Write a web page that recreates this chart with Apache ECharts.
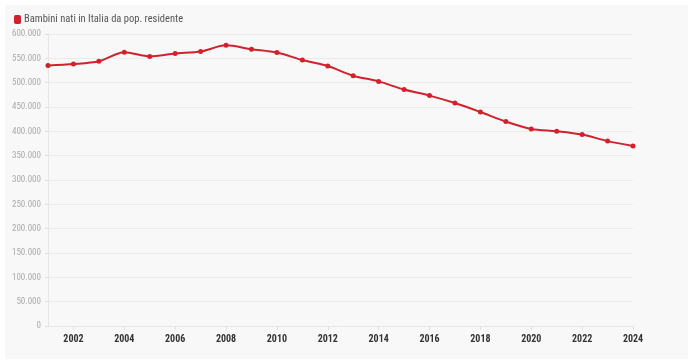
<!DOCTYPE html>
<html>
<head>
<meta charset="utf-8">
<script src="https://cdn.jsdelivr.net/npm/echarts@6/dist/echarts.min.js"></script>
<style>
html,body{margin:0;padding:0;background:#ffffff;}
#wrap{position:absolute;left:5px;top:5px;width:683px;height:354px;background:#f8f8f8;}
#chart{position:absolute;left:-5px;top:-5px;width:695px;height:363px;}
</style>
</head>
<body>
<div id="wrap"><div id="chart"></div></div>
<script>
const years = ['2001','2002','2003','2004','2005','2006','2007','2008','2009','2010','2011','2012','2013','2014','2015','2016','2017','2018','2019','2020','2021','2022','2023','2024'];
const births = [535282,538198,544063,562599,554022,560010,563933,576659,568857,561944,546585,534186,514308,502596,485780,473438,458151,439747,420084,404892,400249,393333,379890,370000];
const seriesName = 'Bambini nati in Italia da pop. residente';

function fmt(v){ return String(v).replace(/\B(?=(\d{3})+(?!\d))/g, '.'); }

const FONT = 'Roboto Condensed';
const chart = echarts.init(document.getElementById('chart'));
chart.setOption({
  backgroundColor: 'transparent',
  animation: false,
  textStyle: { fontFamily: FONT },
  legend: {
    left: 9, top: 9,
    itemWidth: 7, itemHeight: 9, itemGap: 10,
    icon: 'roundRect',
    textStyle: { color: '#555', fontSize: 10.5, fontFamily: FONT, padding: [0, 0, 0, -2] },
    data: [seriesName]
  },
  grid: { left: 48, right: 62, top: 34, bottom: 37 },
  xAxis: {
    type: 'category',
    data: years,
    boundaryGap: false,
    axisLine: { lineStyle: { color: '#e6e6e6' } },
    axisTick: { show: true, interval: function(i){ return i % 2 === 1; }, lineStyle: { color: '#e0e0e0' }, length: 4 },
    axisLabel: { interval: function(i){ return i % 2 === 1; }, color: '#333', fontWeight: 'bold', fontSize: 10, fontFamily: FONT, margin: 8 },
    splitLine: { show: false }
  },
  yAxis: {
    type: 'value',
    min: 0, max: 600000, interval: 50000,
    axisLine: { show: true, lineStyle: { color: '#e6e6e6' } },
    axisTick: { show: true, length: 3, lineStyle: { color: '#e0e0e0' } },
    axisLabel: { color: '#aaaaaa', fontSize: 9, fontFamily: FONT, formatter: fmt, margin: 7 },
    splitLine: { lineStyle: { color: '#ebebeb' } }
  },
  series: [{
    name: seriesName,
    type: 'line',
    data: births,
    smooth: 0.3,
    symbol: 'circle',
    symbolSize: 5,
    itemStyle: { color: '#d0222c' },
    lineStyle: { color: '#d0222c', width: 2 }
  }]
});
</script>
</body>
</html>
